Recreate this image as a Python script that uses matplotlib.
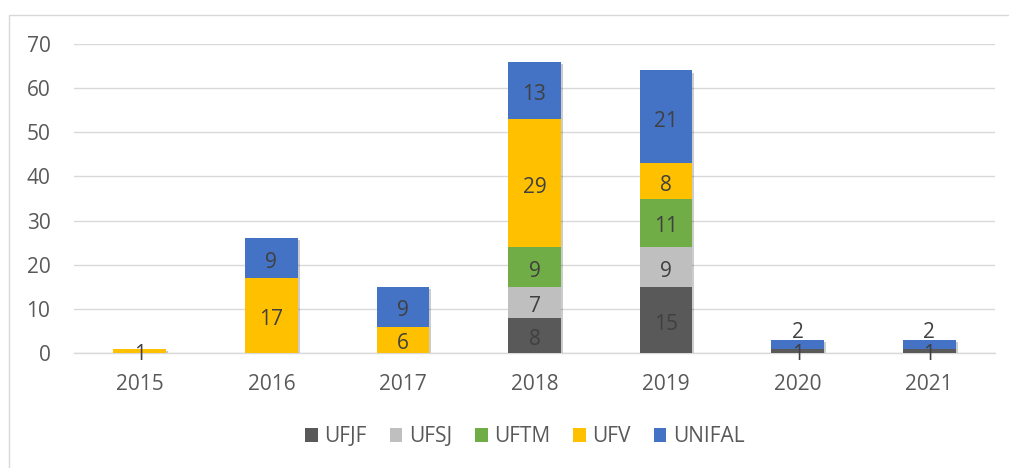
import matplotlib
matplotlib.use("Agg")
import matplotlib.pyplot as plt
import matplotlib.patheffects as pe
import matplotlib.transforms as mtransforms
from matplotlib.patches import Rectangle
import numpy as np

years = ["2015", "2016", "2017", "2018", "2019", "2020", "2021"]
series_names = ["UFJF", "UFSJ", "UFTM", "UFV", "UNIFAL"]
ufjf = [0, 0, 0, 8, 15, 1, 1]
ufsj = [0, 0, 0, 7, 9, 0, 0]
uftm = [0, 0, 0, 9, 11, 0, 0]
ufv = [1, 17, 6, 29, 8, 0, 0]
unifal = [0, 9, 9, 13, 21, 2, 2]
yticks = [0, 10, 20, 30, 40, 50, 60, 70]

colors = ["#595959", "#BFBFBF", "#70AD47", "#FFC000", "#4472C4"]
text_color = "#595959"
label_color = "#404040"

plt.rcParams['font.family'] = ['Open Sans', 'DejaVu Sans']

fig = plt.figure(figsize=(10.09, 4.68), dpi=100)
ax = fig.add_axes([74/1009, 115/468, (995-74)/1009, (353-44)/468])

# chart border
fig.patches.append(Rectangle((9/1009, -0.1), 1.2, (468-15)/468 + 0.1,
                             transform=fig.transFigure, fill=False,
                             edgecolor="#D9D9D9", linewidth=1.0))

x = np.arange(len(years))
width = 0.4
data = [ufjf, ufsj, uftm, ufv, unifal]
totals = np.sum(np.array(data, dtype=float), axis=0)

# shadow under whole stacks
sh = ax.bar(x, totals, width, color="white", zorder=2.5)
for b in sh:
    b.set_path_effects([pe.SimplePatchShadow(offset=(1.5, -1.5), shadow_rgbFace="#000000", alpha=0.2),
                        pe.Normal()])

label_tr = ax.transData + mtransforms.ScaledTranslation(0, -3/72, fig.dpi_scale_trans)

bottom = np.zeros(len(years))
for name, vals, c in zip(series_names, data, colors):
    vals = np.array(vals, dtype=float)
    ax.bar(x, vals, width, bottom=bottom, color=c, label=name, zorder=3)
    for i, v in enumerate(vals):
        if v <= 0:
            continue
        yc = bottom[i] + v / 2
        if v < 3 and bottom[i] > 0:
            yc = bottom[i] + v + 2.6
        ax.text(x[i], yc, f"{int(v)}", ha="center", va="center",
                fontsize=15, color=label_color, zorder=5, transform=label_tr)
    bottom += vals

ax.set_xlim(-0.5, len(years) - 0.5)
ax.set_ylim(0, 70)
ax.set_yticks(yticks)
ax.set_xticks(x)
ax.set_xticklabels(years)
ax.tick_params(axis="both", length=0, labelsize=15, colors=text_color)
ax.tick_params(axis="y", pad=17)
ax.tick_params(axis="x", pad=15)
ax.yaxis.grid(True, color="#D9D9D9", linewidth=1.0, zorder=0)
for s in ["top", "right", "left"]:
    ax.spines[s].set_visible(False)
ax.spines["bottom"].set_color("#D9D9D9")
ax.spines["bottom"].set_linewidth(1.0)

leg = fig.legend(loc="center", bbox_to_anchor=(0.52, (468-437)/468),
                 ncol=5, frameon=False, fontsize=15, handlelength=0.62, handleheight=0.62,
                 handletextpad=0.3, columnspacing=1.1)
for t in leg.get_texts():
    t.set_color(text_color)

fig.savefig("out.png", dpi=100)
